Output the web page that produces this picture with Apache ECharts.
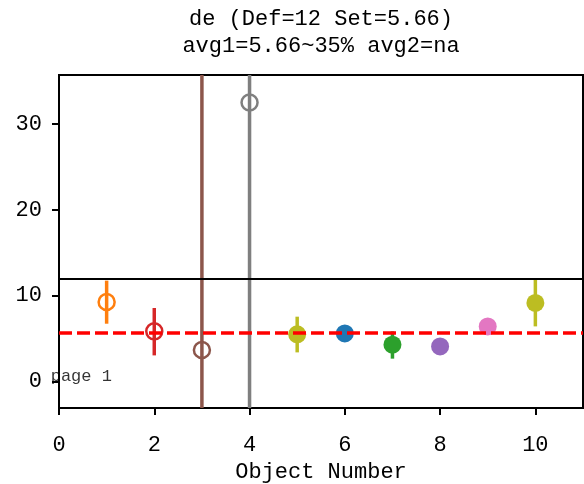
<!DOCTYPE html>
<html>
<head>
<meta charset="utf-8">
<script src="https://cdn.jsdelivr.net/npm/echarts@6/dist/echarts.min.js"></script>
<style>
html,body{margin:0;padding:0;background:#fff;}
#chart{width:584px;height:484px;}
</style>
</head>
<body>
<div id="chart"></div>
<script>
// ---- data ----
const titleText = 'de (Def=12 Set=5.66)\navg1=5.66~35% avg2=na';
const xAxisName = 'Object Number';
const objectNumbers = [1, 2, 3, 4, 5, 6, 7, 8, 9, 10];
const values = [9.25, 5.83, 3.66, 32.5, 5.48, 5.59, 4.28, 4.08, 6.41, 9.14];
const errLow = [6.72, 3.03, -60, -40, 3.38, 5.59, 2.65, 4.08, 6.41, 6.41];
const errHigh = [11.74, 8.55, 70, 90, 7.54, 5.59, 5.83, 4.08, 6.41, 11.82];
const hollow = [true, true, true, true, false, false, false, false, false, false];
const pointColors = ['#ff7f0e', '#d62728', '#8c564b', '#7f7f7f', '#bcbd22', '#1f77b4', '#2ca02c', '#9467bd', '#e377c2', '#bcbd22'];
const defLevel = 12;
const setLevel = 5.66;
const xTicks = [0, 2, 4, 6, 8, 10];
const yTicks = [0, 10, 20, 30];
const xRange = [0, 11];
const yRange = [-3.1, 35.7];
const noteText = 'page 1';
const notePos = [-0.174, 0];

const FONT = 'Liberation Mono';
const chart = echarts.init(document.getElementById('chart'), null, {renderer: 'canvas'});

const clampY = v => Math.max(yRange[0], Math.min(yRange[1], v));

const errData = objectNumbers.map((x, i) => [x, errLow[i], errHigh[i]]);
const pointData = objectNumbers.map((x, i) => ({
  value: [x, values[i]],
  itemStyle: hollow[i]
    ? {color: 'rgba(0,0,0,0)', borderColor: pointColors[i], borderWidth: 2.5, opacity: 1}
    : {color: pointColors[i], borderWidth: 0, opacity: 1},
  symbolSize: hollow[i] ? 16 : 18
}));

chart.setOption({
  animation: false,
  backgroundColor: '#fff',
  title: {
    text: titleText,
    left: 321,
    top: 6,
    textAlign: 'center',
    padding: 0,
    textStyle: {fontFamily: FONT, fontSize: 22, fontWeight: 'normal', color: '#000', lineHeight: 27}
  },
  grid: {
    left: 59, right: 1, top: 75, bottom: 76,
    containLabel: false,
    outerBoundsMode: 'none',
    show: true, borderColor: '#000', borderWidth: 2, backgroundColor: 'rgba(0,0,0,0)'
  },
  xAxis: {
    type: 'value',
    min: xRange[0], max: xRange[1],
    name: xAxisName,
    nameLocation: 'middle',
    nameGap: 49,
    nameTextStyle: {fontFamily: FONT, fontSize: 22, color: '#000'},
    axisLine: {show: true, onZero: false, lineStyle: {color: '#000', width: 2}},
    axisTick: {show: true, inside: false, length: 7, lineStyle: {color: '#000', width: 2}, customValues: xTicks},
    axisLabel: {show: true, margin: 26, fontFamily: FONT, fontSize: 22, color: '#000', customValues: xTicks},
    splitLine: {show: false}
  },
  yAxis: {
    type: 'value',
    min: yRange[0], max: yRange[1],
    axisLine: {show: true, onZero: false, lineStyle: {color: '#000', width: 2}},
    axisTick: {show: true, inside: false, length: 7, lineStyle: {color: '#000', width: 2}, customValues: yTicks},
    axisLabel: {show: true, margin: 17, fontFamily: FONT, fontSize: 22, color: '#000', customValues: yTicks},
    splitLine: {show: false}
  },
  series: [
    {
      type: 'custom',
      z: 1,
      data: errData,
      renderItem: function (params, api) {
        const i = params.dataIndex;
        const x = api.value(0);
        const p1 = api.coord([x, clampY(api.value(1))]);
        const p2 = api.coord([x, clampY(api.value(2))]);
        return {
          type: 'line',
          shape: {x1: p1[0], y1: p1[1], x2: p2[0], y2: p2[1]},
          style: {stroke: pointColors[i], lineWidth: 3.5}
        };
      }
    },
    {
      type: 'line',
      z: 2,
      data: [],
      markLine: {
        silent: true,
        symbol: 'none',
        label: {show: false},
        data: [
          {yAxis: defLevel, lineStyle: {color: '#000', width: 2, type: 'solid'}},
          {yAxis: setLevel, lineStyle: {color: '#ff0000', width: 3.5, type: [13, 5]}}
        ]
      }
    },
    {
      type: 'scatter',
      z: 3,
      symbol: 'circle',
      itemStyle: {opacity: 1},
      data: pointData
    },
    {
      type: 'scatter',
      z: 4,
      clip: false,
      symbolSize: 0,
      data: [notePos],
      label: {
        show: true,
        formatter: noteText,
        position: [0, 0],
        align: 'left',
        verticalAlign: 'middle',
        offset: [0, -5],
        fontFamily: FONT,
        fontSize: 17,
        color: '#000'
      }
    }
  ]
});
</script>
</body>
</html>
